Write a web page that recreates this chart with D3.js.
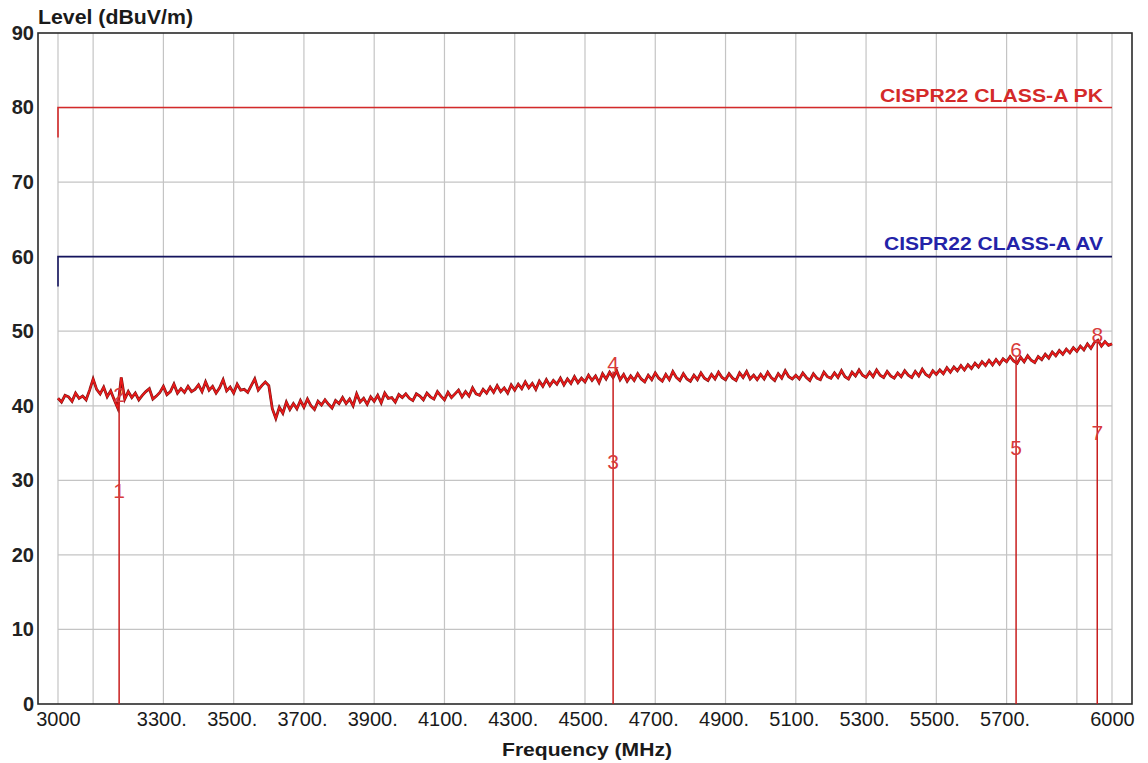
<!DOCTYPE html>
<html>
<head>
<meta charset="utf-8">
<script src="https://cdn.jsdelivr.net/npm/d3@7"></script>
<style>
  body { margin: 0; background: #fff; }
  text { font-family: Arial, "Liberation Sans", sans-serif; }
</style>
</head>
<body>
<div id="chart"></div>
<script>
/* data */
var startFreq = 3000;
var stepFreq = 10;
// measured level (dBuV/m), one value every 10 MHz from 3000 to 6000
var traceLevel = [
  41.0, 40.5, 41.4, 41.2, 40.6, 41.7, 41.0, 41.3, 40.8, 42.1,
  43.6, 42.2, 41.6, 42.5, 41.2, 42.0, 40.8, 39.7, 43.8, 40.9,
  41.9, 41.1, 41.7, 40.8, 41.4, 41.9, 42.3, 40.9, 41.3, 41.8,
  42.6, 41.5, 41.9, 42.9, 41.7, 42.3, 41.8, 42.6, 41.9, 42.2,
  42.8, 41.9, 43.2, 42.1, 42.6, 41.7, 42.4, 43.5, 42.0, 42.5,
  41.7, 42.9, 42.1, 42.2, 41.8, 42.7, 43.6, 42.1, 42.7, 43.2,
  42.7, 39.6, 38.3, 39.8, 39.0, 40.5, 39.5, 40.3, 39.6, 40.7,
  39.8, 40.9, 40.0, 39.5, 40.6, 40.1, 40.8, 40.2, 39.7, 40.7,
  40.3, 41.1, 40.3, 40.9, 40.0, 41.6, 40.5, 41.0, 40.2, 41.2,
  40.6, 41.4, 40.4, 41.7, 41.0, 41.1, 40.5, 41.5, 41.1, 41.6,
  41.0, 40.7, 41.6, 41.3, 40.8, 41.7, 41.2, 40.9, 41.9, 41.3,
  40.8, 41.8, 41.1, 41.6, 42.1, 41.2, 41.9, 41.3, 42.4, 41.6,
  41.4, 42.2, 41.7, 42.5, 41.8, 42.7, 41.9, 42.4, 41.7, 42.8,
  42.1, 42.9, 42.3, 43.2, 42.4, 43.0, 42.2, 43.3, 42.6, 43.5,
  42.7, 43.4, 42.9, 43.7, 42.8, 43.6, 43.0, 43.9, 43.1, 43.7,
  43.2, 44.1, 43.4, 44.0, 43.1, 44.3, 43.6, 44.5, 43.8, 44.7,
  43.5, 44.2, 43.3, 44.0, 43.4, 44.3, 43.6, 43.2, 44.1, 43.5,
  44.4, 43.7, 43.3, 44.2, 43.5, 44.6, 43.8, 43.4, 44.3, 43.6,
  43.3, 44.1, 43.5, 44.4, 43.7, 43.4, 44.2, 43.6, 44.5, 43.8,
  43.5, 44.3, 43.7, 43.4, 44.4, 43.8, 44.6, 43.6, 44.1, 43.5,
  44.2, 43.6, 44.5, 43.8, 43.4, 44.3, 43.7, 44.7, 43.9, 43.6,
  44.1, 43.6, 44.4, 43.8, 43.4, 44.3, 43.7, 43.5, 44.5, 43.9,
  43.7, 44.4, 43.8, 44.7, 43.9, 43.6, 44.5, 44.0, 44.8, 44.1,
  43.8, 44.5, 43.9, 44.8, 44.1, 43.8, 44.6, 44.0, 43.7, 44.4,
  43.9, 44.7, 44.1, 43.8, 44.6, 44.0, 44.9, 44.2, 43.9, 44.7,
  44.2, 44.8, 44.3, 45.1, 44.5, 45.2, 44.7, 45.4, 44.8, 45.5,
  45.0, 45.7, 45.2, 45.9, 45.4, 46.1, 45.5, 46.2, 45.6, 46.3,
  45.9, 46.6, 46.0, 45.7, 46.5, 45.9, 46.7, 46.1, 45.8, 46.6,
  46.2, 46.9, 46.4, 47.2, 46.7, 47.4, 46.9, 47.6, 47.1, 47.8,
  47.3, 48.0, 47.5, 48.3, 47.7, 48.5, 48.8, 48.0, 48.6, 48.1,
  48.3
];

// limit lines
var limitFreq = [3000, 3000, 6000];
var pkLimit = [76, 80, 80];
var avLimit = [56, 60, 60];

// markers: odd numbers = lower reading, even numbers = peak reading
var markerFreq = [3174, 4580, 5727, 5958];
var markerPeak = [40.5, 44.6, 46.6, 48.6];
var markerLow = [27.6, 31.5, 33.4, 35.4];

var yTicks = [0, 10, 20, 30, 40, 50, 60, 70, 80, 90];
var xGrid = [3000, 3100, 3300, 3500, 3700, 3900, 4100, 4300, 4500, 4700, 4900, 5100, 5300, 5500, 5700, 5900, 6000];
var xTicks = [3000, 3300, 3500, 3700, 3900, 4100, 4300, 4500, 4700, 4900, 5100, 5300, 5500, 5700, 6000];

/* set up */
var width = 1148;
var height = 763;

var svg = d3.select("#chart").append("svg")
    .attr("width", width)
    .attr("height", height)
    .style("display", "block");

svg.append("rect")
    .attr("width", width)
    .attr("height", height)
    .attr("fill", "#fff");

var x = d3.scaleLinear().domain([3000, 6000]).range([58, 1112]);
var y = d3.scaleLinear().domain([0, 90]).range([704, 33]);

// grid
var grid = svg.append("g").attr("class", "grid");
grid.selectAll(".vline")
    .data(xGrid)
    .enter().append("line")
    .attr("x1", function (d) { return x(d); })
    .attr("x2", function (d) { return x(d); })
    .attr("y1", y(90))
    .attr("y2", y(0))
    .attr("stroke", "#c4c4c4")
    .attr("stroke-width", 1.2);
grid.selectAll(".hline")
    .data(yTicks.slice(1, 9))
    .enter().append("line")
    .attr("x1", x(3000))
    .attr("x2", x(6000))
    .attr("y1", function (d) { return y(d); })
    .attr("y2", function (d) { return y(d); })
    .attr("stroke", "#c4c4c4")
    .attr("stroke-width", 1.2);

// frame
svg.append("rect")
    .attr("x", 38)
    .attr("y", 33)
    .attr("width", 1132 - 38)
    .attr("height", 704 - 33)
    .attr("fill", "none")
    .attr("stroke", "#2a2a2a")
    .attr("stroke-width", 1.6);

// axes labels
var xAxis = d3.axisBottom(x)
    .tickValues(xTicks)
    .tickSize(0)
    .tickFormat(function (d) { return (d == 3000 || d == 6000) ? String(d) : d + "."; });

var gx = svg.append("g")
    .attr("transform", "translate(0," + 711 + ")")
    .call(xAxis);
gx.select(".domain").remove();
gx.selectAll("text")
    .attr("dy", "0.71em")
    .attr("y", 1)
    .attr("dx", function (d) { return (d == 3000 || d == 6000) ? 0 : -2; })
    .attr("fill", "#1a1a1a")
    .style("font-size", "20px");

var yAxis = d3.axisLeft(y)
    .tickValues(yTicks)
    .tickSize(0)
    .tickPadding(4);

var gy = svg.append("g")
    .attr("transform", "translate(38,0)")
    .call(yAxis);
gy.select(".domain").remove();
gy.selectAll("text")
    .attr("fill", "#222")
    .style("font-size", "20px")
    .style("font-weight", "bold");

svg.append("text")
    .attr("x", 38)
    .attr("y", 24)
    .attr("textLength", 155)
    .attr("lengthAdjust", "spacingAndGlyphs")
    .attr("fill", "#1a1a1a")
    .style("font-size", "20px")
    .style("font-weight", "bold")
    .text("Level (dBuV/m)");

svg.append("text")
    .attr("x", 587)
    .attr("y", 756)
    .attr("text-anchor", "middle")
    .attr("textLength", 170)
    .attr("lengthAdjust", "spacingAndGlyphs")
    .attr("fill", "#1a1a1a")
    .style("font-size", "19px")
    .style("font-weight", "bold")
    .text("Frequency (MHz)");

// limit lines
var limitLine = d3.line()
    .x(function (d) { return x(d[0]); })
    .y(function (d) { return y(d[1]); });

svg.append("path")
    .attr("d", limitLine(d3.zip(limitFreq, pkLimit)))
    .attr("fill", "none")
    .attr("stroke", "#d42a2a")
    .attr("stroke-width", 1.6);

svg.append("path")
    .attr("d", limitLine(d3.zip(limitFreq, avLimit)))
    .attr("fill", "none")
    .attr("stroke", "#14145e")
    .attr("stroke-width", 1.6);

svg.append("text")
    .attr("x", 1103)
    .attr("y", y(80) - 6)
    .attr("text-anchor", "end")
    .attr("textLength", 223)
    .attr("lengthAdjust", "spacingAndGlyphs")
    .attr("fill", "#d42a2a")
    .style("font-size", "18px")
    .style("font-weight", "bold")
    .text("CISPR22 CLASS-A PK");

svg.append("text")
    .attr("x", 1103)
    .attr("y", y(60) - 7)
    .attr("text-anchor", "end")
    .attr("textLength", 219)
    .attr("lengthAdjust", "spacingAndGlyphs")
    .attr("fill", "#2323a8")
    .style("font-size", "18px")
    .style("font-weight", "bold")
    .text("CISPR22 CLASS-A AV");

// trace
var traceData = traceLevel.map(function (v, i) { return [startFreq + i * stepFreq, v]; });

var traceLine = d3.line()
    .x(function (d) { return x(d[0]); })
    .y(function (d) { return y(d[1]); });

svg.append("path")
    .attr("d", traceLine(traceData))
    .attr("fill", "none")
    .attr("stroke", "#761212")
    .attr("stroke-width", 2.8)
    .attr("stroke-linejoin", "miter");

svg.append("path")
    .attr("d", traceLine(traceData))
    .attr("fill", "none")
    .attr("stroke", "#ea1a1a")
    .attr("stroke-width", 1.7)
    .attr("stroke-linejoin", "miter");

// markers
var markers = svg.append("g").attr("class", "markers");
markers.selectAll("line")
    .data(markerFreq)
    .enter().append("line")
    .attr("x1", function (d) { return x(d); })
    .attr("x2", function (d) { return x(d); })
    .attr("y1", y(0))
    .attr("y2", function (d, i) { return y(markerPeak[i]); })
    .attr("stroke", "#c81e1e")
    .attr("stroke-width", 1.5);

markers.selectAll(".low")
    .data(markerFreq)
    .enter().append("text")
    .attr("class", "low")
    .attr("x", function (d) { return x(d); })
    .attr("y", function (d, i) { return y(markerLow[i]); })
    .attr("text-anchor", "middle")
    .attr("fill", "#d83a3a")
    .style("font-size", "21px")
    .text(function (d, i) { return String(i * 2 + 1); });

markers.selectAll(".peak")
    .data(markerFreq)
    .enter().append("text")
    .attr("class", "peak")
    .attr("x", function (d) { return x(d); })
    .attr("y", function (d, i) { return y(markerPeak[i]); })
    .attr("text-anchor", "middle")
    .attr("fill", "#d83a3a")
    .style("font-size", "21px")
    .text(function (d, i) { return String(i * 2 + 2); });
</script>
</body>
</html>
